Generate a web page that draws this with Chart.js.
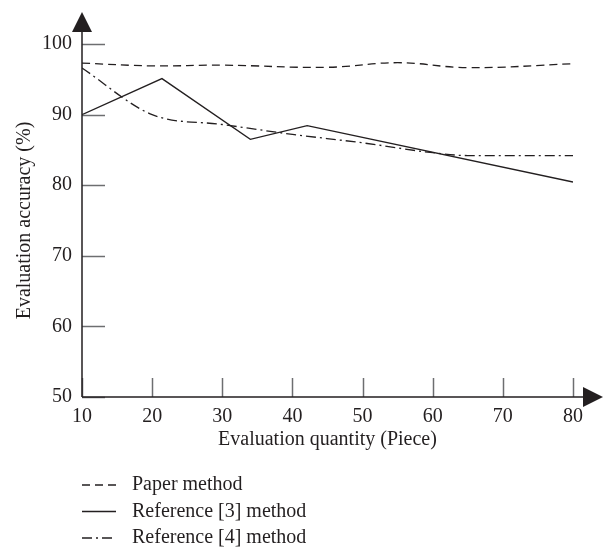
<!DOCTYPE html>
<html>
<head>
<meta charset="utf-8">
<script src="https://cdn.jsdelivr.net/npm/chart.js@4/dist/chart.umd.min.js"></script>
<style>
  html, body { margin: 0; padding: 0; background: #fff; }
  #wrap { width: 605px; height: 550px; }
</style>
</head>
<body>
<div id="wrap"><canvas id="accChart" width="605" height="550"></canvas></div>
<script>
// values
const seriesNames = ['Paper method', 'Reference [3] method', 'Reference [4] method'];
const paperX = [10, 20, 30, 45, 55, 65, 80];
const paperY = [97.3, 96.9, 97.0, 96.7, 97.35, 96.65, 97.2];
const ref3X = [10, 21.4, 34, 42.1, 80];
const ref3Y = [90, 95.1, 86.5, 88.45, 80.45];
const ref4X = [10, 20, 30, 40, 50, 60, 65, 80];
const ref4Y = [96.6, 90.0, 88.6, 87.2, 86.0, 84.6, 84.2, 84.2];
const xTicks = [10, 20, 30, 40, 50, 60, 70, 80];
const yTicks = [50, 60, 70, 80, 90, 100];

const ink = '#231f20';
const serif = "'Liberation Serif', 'DejaVu Serif', serif";
const dashes = [[8, 5], [], [10, 4, 2, 4]];

function pts(xs, ys) {
  return xs.map((x, i) => ({ x: x, y: ys[i] }));
}

// axis lines, inward ticks and arrow heads
const axesDeco = {
  id: 'axesDeco',
  afterDatasetsDraw(chart) {
    const { ctx, chartArea: a, scales } = chart;
    ctx.save();
    ctx.strokeStyle = '#6d6e70';
    ctx.lineWidth = 1.5;
    yTicks.forEach(v => {
      const y = Math.round(scales.y.getPixelForValue(v)) + 0.5;
      ctx.beginPath(); ctx.moveTo(a.left, y); ctx.lineTo(a.left + 23, y); ctx.stroke();
    });
    xTicks.forEach(v => {
      const x = Math.round(scales.x.getPixelForValue(v)) + 0.5;
      ctx.beginPath(); ctx.moveTo(x, a.bottom); ctx.lineTo(x, a.bottom - 19); ctx.stroke();
    });
    ctx.strokeStyle = ink;
    ctx.fillStyle = ink;
    ctx.beginPath();
    ctx.moveTo(a.left, a.bottom); ctx.lineTo(a.left, a.top - 12);
    ctx.moveTo(a.left, a.bottom); ctx.lineTo(a.right + 10, a.bottom);
    ctx.stroke();
    // up arrow
    ctx.beginPath();
    ctx.moveTo(a.left, a.top - 32);
    ctx.lineTo(a.left - 10, a.top - 12);
    ctx.lineTo(a.left + 10, a.top - 12);
    ctx.closePath(); ctx.fill();
    // right arrow
    ctx.beginPath();
    ctx.moveTo(a.right + 30, a.bottom);
    ctx.lineTo(a.right + 10, a.bottom - 10);
    ctx.lineTo(a.right + 10, a.bottom + 10);
    ctx.closePath(); ctx.fill();
    ctx.restore();
  }
};

// stacked legend under the x title
const stackLegend = {
  id: 'stackLegend',
  afterDraw(chart) {
    const { ctx, chartArea: a } = chart;
    ctx.save();
    ctx.font = '20px ' + serif;
    ctx.textBaseline = 'middle';
    chart.data.datasets.forEach((ds, i) => {
      const y = a.bottom + 88 + i * 26.5;
      ctx.strokeStyle = ink;
      ctx.lineWidth = 1.3;
      ctx.setLineDash(ds.borderDash);
      ctx.beginPath(); ctx.moveTo(a.left, y); ctx.lineTo(a.left + 34, y); ctx.stroke();
      ctx.setLineDash([]);
      ctx.fillStyle = ink;
      ctx.fillText(ds.label, a.left + 50, y);
    });
    ctx.restore();
  }
};

new Chart(document.getElementById('accChart'), {
  type: 'line',
  data: {
    datasets: [
      { label: seriesNames[0], data: pts(paperX, paperY), tension: 0.4 },
      { label: seriesNames[1], data: pts(ref3X, ref3Y), tension: 0 },
      { label: seriesNames[2], data: pts(ref4X, ref4Y), cubicInterpolationMode: 'monotone' }
    ].map((ds, i) => Object.assign(ds, {
      borderColor: ink,
      borderWidth: 1.3,
      borderDash: dashes[i],
      pointRadius: 0,
      fill: false
    }))
  },
  options: {
    responsive: false,
    animation: false,
    layout: { padding: { top: 44, right: 32, left: 0, bottom: 98 } },
    plugins: { legend: { display: false }, tooltip: { enabled: false } },
    scales: {
      x: {
        type: 'linear',
        min: 10, max: 80,
        afterBuildTicks: s => { s.ticks = xTicks.map(v => ({ value: v })); },
        afterFit: s => { s.height = 55; },
        grid: { display: false, drawTicks: false },
        border: { display: false },
        ticks: { color: ink, padding: 8, font: { family: serif, size: 20 } },
        title: {
          display: true, text: 'Evaluation quantity (Piece)', color: ink,
          padding: 0, font: { family: serif, size: 20 }
        }
      },
      y: {
        min: 50, max: 100,
        afterBuildTicks: s => { s.ticks = yTicks.map(v => ({ value: v })); },
        afterFit: s => { s.width = 82; },
        grid: { display: false, drawTicks: false },
        border: { display: false },
        ticks: { color: ink, padding: 10, font: { family: serif, size: 20 } },
        title: {
          display: true, text: 'Evaluation accuracy (%)', color: ink,
          padding: { top: 13, bottom: 0 }, font: { family: serif, size: 20 }
        }
      }
    }
  },
  plugins: [axesDeco, stackLegend]
});
</script>
</body>
</html>
